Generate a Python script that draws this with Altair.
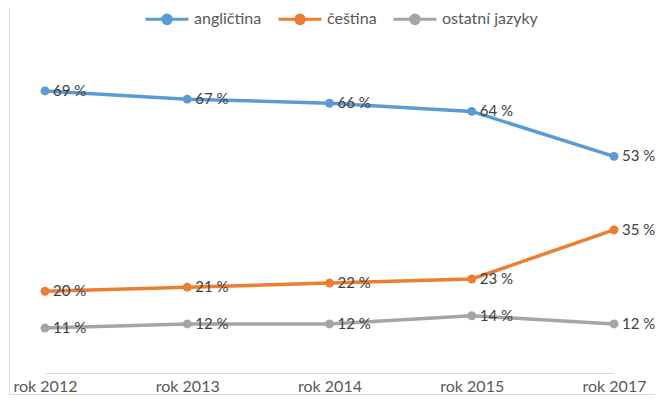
import altair as alt
import pandas as pd

roky = ["rok 2012", "rok 2013", "rok 2014", "rok 2015", "rok 2017"]
jazyky = ["angličtina", "čeština", "ostatní jazyky"]
anglictina = [69, 67, 66, 64, 53]
cestina = [20, 21, 22, 23, 35]
ostatni = [11, 12, 12, 14, 12]
barvy = ["#5B9BD5", "#ED7D31", "#A5A5A5"]

rows = []
for jazyk, vals in zip(jazyky, [anglictina, cestina, ostatni]):
    for rok, v in zip(roky, vals):
        rows.append({"rok": rok, "jazyk": jazyk, "hodnota": v, "popisek": f"{v} %"})
df = pd.DataFrame(rows)

FONT = "Lato"
FS = 16
W, H = 569, 327
PL = 37

legend_path = "M-1,0H1M-0.2,0A0.2,0.2 0 1,1 0.2,0A0.2,0.2 0 1,1 -0.2,0Z"

x_enc = alt.X(
    "rok:N", sort=roky, scale=alt.Scale(type="point", padding=0),
    axis=alt.Axis(title=None, labelAngle=0, domainColor="#D9D9D9", domainWidth=1,
                  ticks=False, grid=False, labelFont=FONT, labelFontSize=FS,
                  labelColor="#595959", labelPadding=5),
)
y_enc = alt.Y("hodnota:Q", scale=alt.Scale(domain=[0, 80]), axis=None)
color_enc = alt.Color(
    "jazyk:N", sort=jazyky,
    scale=alt.Scale(domain=jazyky, range=barvy),
    legend=alt.Legend(title=None, orient="none", legendX=99, legendY=-50,
                      direction="horizontal", symbolType=legend_path,
                      symbolSize=1849, symbolStrokeWidth=3,
                      labelFont=FONT, labelFontSize=FS, labelColor="#595959",
                      labelOffset=4, columnPadding=10),
)

base = alt.Chart(df).encode(x=x_enc, y=y_enc)

lines = base.mark_line(strokeWidth=3.5).encode(color=color_enc)
points = base.mark_point(filled=True, size=80, opacity=1).encode(color=color_enc)
labels = base.mark_text(align="left", baseline="middle", dx=8, fontSize=15,
                        font=FONT, color="#404040").encode(
    text="popisek:N", detail="jazyk:N")

frame_src = alt.Chart(pd.DataFrame({"a": [0]}))
frame_left = frame_src.mark_rule(color="#D9D9D9", strokeWidth=1).encode(
    x=alt.value(-PL + 1.5), y=alt.value(-38), y2=alt.value(349))
frame_bottom = frame_src.mark_rule(color="#D9D9D9", strokeWidth=1).encode(
    x=alt.value(-PL + 1.5), x2=alt.value(W + 60), y=alt.value(348.5))

chart = alt.layer(frame_left, frame_bottom, lines, points, labels).properties(
    width=W, height=H, autosize="none",
    padding={"left": PL, "top": 38, "right": 647 - PL - W, "bottom": 24},
).configure_view(stroke=None)

chart.save("out.html", embed_options={"renderer": "svg", "actions": False})
